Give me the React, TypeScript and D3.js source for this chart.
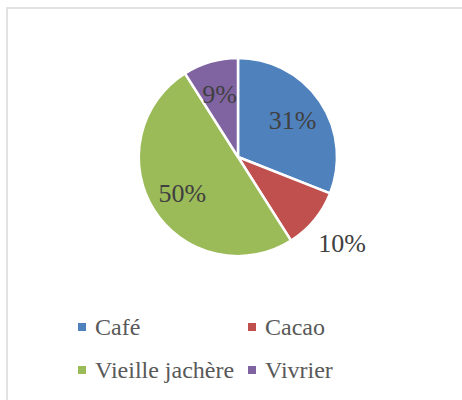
import { useEffect, useRef } from "react";
import * as d3 from "d3";

const categories = ["Café", "Cacao", "Vieille jachère", "Vivrier"];
const values = [31, 10, 50, 9];
const colors = ["#4F81BD", "#C0504D", "#9BBB59", "#8064A2"];
// which labels sit outside the slice
const outside = [false, true, false, false];

const WIDTH = 462;
const HEIGHT = 400;
const FONT = "'Liberation Serif', 'DejaVu Serif', serif";

function PieChart() {
  const svgRef = useRef<SVGSVGElement | null>(null);

  useEffect(() => {
    const svgEl = svgRef.current;
    if (!svgEl) return;
    const svg = d3.select(svgEl);
    svg.selectAll("*").remove();

    // chart frame (right and bottom edges run off the picture)
    svg
      .append("rect")
      .attr("x", 7)
      .attr("y", 8)
      .attr("width", WIDTH + 20)
      .attr("height", HEIGHT + 20)
      .attr("fill", "#fff")
      .attr("stroke", "#d9d9d9")
      .attr("stroke-width", 1.5);

    const cx = 238;
    const cy = 157;
    const radius = 99;

    const data = categories.map((name, i) => ({ name, value: values[i], color: colors[i], outside: outside[i] }));
    const total = d3.sum(values);

    const pie = d3
      .pie<(typeof data)[number]>()
      .sort(null)
      .value((d) => d.value);

    const arc = d3.arc<d3.PieArcDatum<(typeof data)[number]>>().innerRadius(0).outerRadius(radius);
    const inLabel = d3.arc<d3.PieArcDatum<(typeof data)[number]>>().innerRadius(66).outerRadius(66);
    const outLabel = d3.arc<d3.PieArcDatum<(typeof data)[number]>>().innerRadius(135).outerRadius(135);

    const g = svg.append("g").attr("transform", `translate(${cx},${cy})`);
    const arcs = pie(data);

    g.selectAll("path")
      .data(arcs)
      .enter()
      .append("path")
      .attr("d", arc)
      .attr("fill", (d) => d.data.color)
      .attr("stroke", "#fff")
      .attr("stroke-width", 2.5)
      .attr("stroke-linejoin", "round");

    g.selectAll("text.label")
      .data(arcs)
      .enter()
      .append("text")
      .attr("class", "label")
      .attr("transform", (d) => {
        const [x, y] = d.data.outside ? outLabel.centroid(d) : inLabel.centroid(d);
        return `translate(${x},${y})`;
      })
      .attr("text-anchor", "middle")
      .attr("dy", "0.36em")
      .attr("font-family", FONT)
      .attr("font-size", 26)
      .attr("fill", "#404040")
      .text((d) => `${Math.round((d.data.value / total) * 100)}%`);

    // legend, two columns
    const colX = d3.scaleOrdinal<number, number>().domain([0, 1]).range([78, 248]);
    const rowY = d3.scaleOrdinal<number, number>().domain([0, 1]).range([335, 378]);

    const legend = svg
      .append("g")
      .selectAll("g")
      .data(data)
      .enter()
      .append("g")
      .attr("transform", (_d, i) => `translate(${colX(i % 2)},${rowY(Math.floor(i / 2))})`);

    legend
      .append("rect")
      .attr("x", 0)
      .attr("y", -12)
      .attr("width", 8)
      .attr("height", 8)
      .attr("fill", (d) => d.color);

    legend
      .append("text")
      .attr("x", 17)
      .attr("font-family", FONT)
      .attr("font-size", 24)
      .attr("fill", "#595959")
      .text((d) => d.name);
  }, []);

  return (
    <svg
      ref={svgRef}
      width={WIDTH}
      height={HEIGHT}
      style={{ position: "absolute", left: 0, top: 0, background: "#fff" }}
    />
  );
}

export default function App() {
  return <PieChart />;
}
